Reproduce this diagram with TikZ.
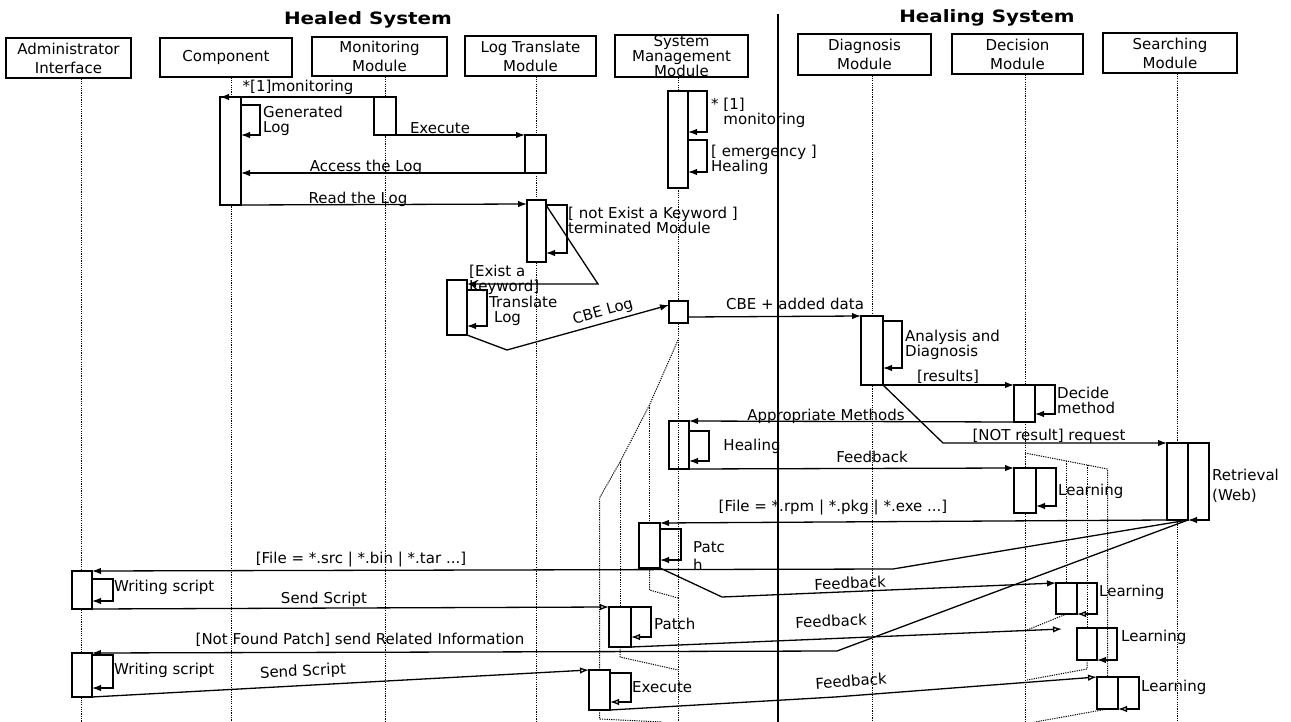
\documentclass[tikz,border=0pt]{standalone}
\usepackage{fontspec}
\setmainfont{DejaVu Sans}
\newfontfamily\titlefont[FakeStretch=1.17]{DejaVu Sans}
\usetikzlibrary{arrows.meta,calc}
\newcommand\mkact[5]{\node[act,minimum width=#4pt,minimum height=#5pt] (#1) at (#2,#3) {};}
\newcommand\mkloop[5]{\draw[#1] ($(#2.north east)+(0,#3)$) -- ++(#4,0) -- ++(0,#5) -- ++(-#4,0);}
\begin{document}
\begin{tikzpicture}[x=1pt,y=-1pt,
  hdr/.style={draw,line width=1.3pt,inner sep=0pt,align=center,font=\fontsize{15}{19}\selectfont},
  act/.style={draw,fill=white,line width=1.3pt,inner sep=0pt,outer sep=0pt,anchor=north west},
  life/.style={line width=1pt,dash pattern=on 1.2pt off 1.1pt},
  msg/.style={line width=1.3pt,-{Latex[length=9pt,width=6.5pt]}},
  omsg/.style={line width=1.3pt,-{Latex[open,length=9pt,width=6.5pt]}},
  lbl/.style={inner sep=0pt,font=\fontsize{15}{15}\selectfont},
  llbl/.style={lbl,anchor=west,align=left},
  ttl/.style={inner sep=0pt,font=\titlefont\bfseries\fontsize{17}{17}\selectfont}
]
\fill[white] (0,0) rectangle (1291,722);
\useasboundingbox (0,0) rectangle (1291,722);

% titles and divider
\node[ttl] (t-healed) at (368,20) {Healed System};
\node[ttl] (t-healing) at (987,18) {Healing System};
\coordinate (div-top) at (778,14);
\coordinate (div-bot) at (778,722);
\draw[line width=1.5pt] (div-top) -- (div-bot);

% headers
\node[hdr,minimum width=125pt,minimum height=40pt] (adm) at (68.5,58) {Administrator\\Interface};
\node[hdr,minimum width=132pt,minimum height=39pt] (comp) at (226,57.5) {Component};
\node[hdr,minimum width=135pt,minimum height=39pt] (mon) at (379.5,56.5) {Monitoring\\Module};
\node[hdr,minimum width=131pt,minimum height=40pt] (ltm) at (530.5,56) {Log Translate\\Module};
\node[hdr,minimum width=133pt,minimum height=40pt,font=\fontsize{15}{14}\selectfont] (smm) at (681.5,56) {System\\Management\\Module};
\node[hdr,minimum width=133pt,minimum height=41pt] (diag) at (864.5,54.5) {Diagnosis\\Module};
\node[hdr,minimum width=131pt,minimum height=40pt] (deci) at (1017.5,54) {Decision\\Module};
\node[hdr,minimum width=134pt,minimum height=40pt] (srch) at (1170,53) {Searching\\Module};

% lifelines
\coordinate (adm-e) at (81,722);
\coordinate (comp-e) at (231,722);
\coordinate (mon-e) at (385,722);
\coordinate (ltm-e) at (536.5,722);
\coordinate (smm-e) at (678,722);
\coordinate (diag-e) at (872,722);
\coordinate (deci-e) at (1025,722);
\coordinate (srch-e) at (1177,722);
\foreach \n in {adm,comp,mon,ltm,smm,diag,deci,srch}
  \draw[life] (\n.south -| \n-e) -- (\n-e);

% extra dotted lifelines (System Management side)
\coordinate (s0) at (678,340);
\coordinate (s1) at (649.5,405);
\coordinate (s2) at (620,462);
\coordinate (s3) at (599.5,498);
\coordinate (r1) at (678,598);
\coordinate (r2) at (678,670);
\coordinate (r3) at (662,722);
\coordinate (patcR) at (649.5,590);
\coordinate (patchR) at (620,657);
\coordinate (exeR) at (599.5,719);
% extra dotted lifelines (Decision side)
\coordinate (d0) at (1025,453);
\coordinate (d1) at (1066.5,461);
\coordinate (d2) at (1087,465);
\coordinate (d3) at (1107.5,469);
\coordinate (q1) at (1027,630);
\coordinate (q2) at (1027,680);
\coordinate (q3) at (1035,722);
\coordinate (l3R) at (1087,669);

% activation boxes
\mkact{cact}{220}{97}{21}{108}
\mkact{mact}{374}{97}{22}{38}
\mkact{lact1}{525}{135}{21}{38}
\mkact{lact2}{527}{200}{19}{62}
\mkact{tact}{447}{280}{20}{55}
\mkact{sact1}{668}{91}{20}{97}
\mkact{sbox}{669}{301}{19}{22}
\mkact{dact}{861}{316}{22}{69}
\mkact{decact1}{1014}{385}{21}{37}
\node[draw,line width=1.3pt,inner sep=0pt,outer sep=0pt,anchor=north west,minimum width=20pt,minimum height=48pt] (hact) at (669,421) {};
\mkact{decact2}{1014}{468}{22}{45}
\mkact{ract}{1167}{443}{21}{77}
\mkact{patc}{639}{523}{21}{45}
\mkact{patch}{609}{607}{22}{40}
\mkact{exe}{589}{670}{21}{40}
\mkact{a1}{72}{571}{20}{38}
\mkact{a2}{72}{653}{20}{44}
\mkact{l2}{1056}{583}{21}{31}
\mkact{l3}{1077}{628}{20}{32}
\mkact{l4}{1097}{677}{21}{32}

% dotted branch lines
\draw[life] (s0) -- (s1) -- (s2) -- (s3) -- (exe.north);
\draw[life] (s1) -- (patc.north);
\draw[life] (s2) -- (patch.north);
\draw[life] (patc.south) -- (patcR) -- (r1);
\draw[life] (patch.south) -- (patchR) -- (r2);
\draw[life] (exe.south) -- (exeR) -- (r3);
\draw[life] (d0) -- (d1) -- (d2) -- (d3) -- (l4.north);
\draw[life] (d1) -- (l2.north);
\draw[life] (d2) -- (l3.north);
\draw[life] (l2.south) -- (q1);
\draw[life] (l3.south) -- (l3R) -- (q2);
\draw[life] (l4.south) -- (q3);

% bend points
\coordinate (b7) at (598,284);
\coordinate (b9) at (507,350);
\coordinate (b15) at (943,443);
\coordinate (b22) at (893,569);
\coordinate (b25) at (722,597);
\coordinate (b27) at (837,651);
\coordinate (b32) at (835,697);
\coordinate (f28) at (1062,629);

% messages
\draw[msg] (mact.north west) -- (cact.north west);
\draw[msg] (mact.south east) -- (lact1.north west);
\draw[msg] (lact1.south west) -- (cact.east |- lact1.south west);
\draw[msg] (cact.south east) -- ($(lact2.north west)+(0,4)$);
\draw[msg] ($(lact2.north east)+(0,5)$) -- (b7) -- ($(tact.north east)+(0,4)$);
\draw[msg] (tact.south east) -- (b9) -- ($(sbox.north west)+(0,4)$);
\draw[msg] ($(sbox.north east)+(0,16)$) -- (dact.north west);
\draw[msg] (dact.south east) -- (decact1.north west);
\draw[msg] (decact1.south west) -- (hact.north east);
\draw[msg] (dact.south east) -- (b15) -- (ract.north west);
\draw[msg] (hact.south east) -- (decact2.north west);
\draw[msg] (ract.south west) -- (patc.north east);
\draw[msg] (ract.south east) -- (b22) -- (a1.north east);
\draw[omsg] (a1.south east) -- (patch.north west);
\draw[msg] (patc.south east) -- (b25) -- (l2.north west);
\draw[msg] (ract.south east) -- (b27) -- (a2.north east);
\draw[omsg] (patch.south east) -- (f28);
\draw[omsg] (a2.south east) -- (exe.north west);
\draw[omsg] (exe.south east) -- (b32) -- (l4.north west);

% self messages
\mkloop{msg}{cact}{8}{19}{30}
\mkloop{msg}{lact2}{5}{21}{48}
\mkloop{msg}{tact}{10}{20}{36}
\mkloop{msg}{sact1}{0}{19}{41}
\mkloop{msg}{sact1}{49}{19}{32}
\mkloop{msg}{dact}{5}{19}{47}
\mkloop{msg}{decact1}{0}{20}{29}
\mkloop{msg}{hact}{10}{20}{30}
\mkloop{msg}{decact2}{0}{20}{38}
\mkloop{msg}{ract}{0}{21}{77}
\mkloop{msg}{patc}{6}{21}{31}
\mkloop{msg}{a1}{8}{21}{22}
\mkloop{omsg}{patch}{0}{20}{30}
\mkloop{msg}{a2}{2}{21}{33}
\mkloop{omsg}{exe}{3}{21}{29}
\mkloop{omsg}{l2}{0}{20}{31}
\mkloop{msg}{l3}{0}{20}{32}
\mkloop{omsg}{l4}{0}{21}{32}

% labels
\node[lbl] (lb-mon) at (298,87) {*[1]monitoring};
\node[llbl] (lb-gen) at (263,120.5) {Generated\\Log};
\node[lbl] (lb-exe) at (440,128) {Execute};
\node[lbl] (lb-acc) at (366,167) {Access the Log};
\node[lbl] (lb-read) at (358,199) {Read the Log};
\node[llbl] (lb-nex) at (568,220) {[ not Exist a Keyword ]\\terminated Module};
\node[llbl] (lb-ex) at (469,280) {[Exist a\\Keyword]};
\node[llbl] (lb-tr) at (489,311) {Translate\\\hspace*{5pt}Log};
\node[lbl,rotate=15.5] (lb-cbe) at (603,312) {CBE Log};
\node[llbl] (lb-sm1) at (711,113) {* [1]\\\phantom{* }monitoring};
\node[llbl] (lb-sm2) at (711,160) {[ emergency ]\\Healing};
\node[lbl] (lb-cbe2) at (795,304) {CBE + added data};
\node[llbl] (lb-ana) at (905,345) {Analysis and\\Diagnosis};
\node[lbl] (lb-res) at (948,377) {[results]};
\node[llbl] (lb-dec) at (1057,400) {Decide\\method};
\node[lbl] (lb-app) at (826,416) {Appropriate Methods};
\node[lbl] (lb-not) at (1049,436) {[NOT result] request};
\node[lbl] (lb-heal) at (752,446) {Healing};
\node[lbl] (lb-fb1) at (872,457) {Feedback};
\node[llbl] (lb-lrn1) at (1058,491) {Learning};
\node[llbl,font=\fontsize{15}{20}\selectfont] (lb-ret) at (1212,486) {Retrieval\\(Web)};
\node[lbl] (lb-rpm) at (833,508) {[File = *.rpm | *.pkg | *.exe ...]};
\node[llbl,font=\fontsize{15}{18}\selectfont] (lb-patc) at (693,556) {Patc\\h};
\node[lbl] (lb-src) at (361,560) {[File = *.src | *.bin | *.tar ...]};
\node[llbl] (lb-ws1) at (114,587) {Writing script};
\node[lbl] (lb-ss1) at (324,599) {Send Script};
\node[lbl,rotate=2.4] (lb-fb2) at (850,583) {Feedback};
\node[llbl] (lb-patch) at (654,624) {Patch};
\node[lbl] (lb-nf) at (360,640) {[Not Found Patch] send Related Information};
\node[lbl,rotate=2.4] (lb-fb3) at (831,621) {Feedback};
\node[llbl] (lb-ws2) at (114,670) {Writing script};
\node[lbl,rotate=3] (lb-ss2) at (303,672) {Send Script};
\node[llbl] (lb-exe2) at (632,687) {Execute};
\node[lbl,rotate=4] (lb-fb4) at (851,681) {Feedback};
\node[llbl] (lb-l2) at (1099,592) {Learning};
\node[llbl] (lb-l3) at (1121,637) {Learning};
\node[llbl] (lb-l4) at (1141,687) {Learning};
\end{tikzpicture}
\end{document}
